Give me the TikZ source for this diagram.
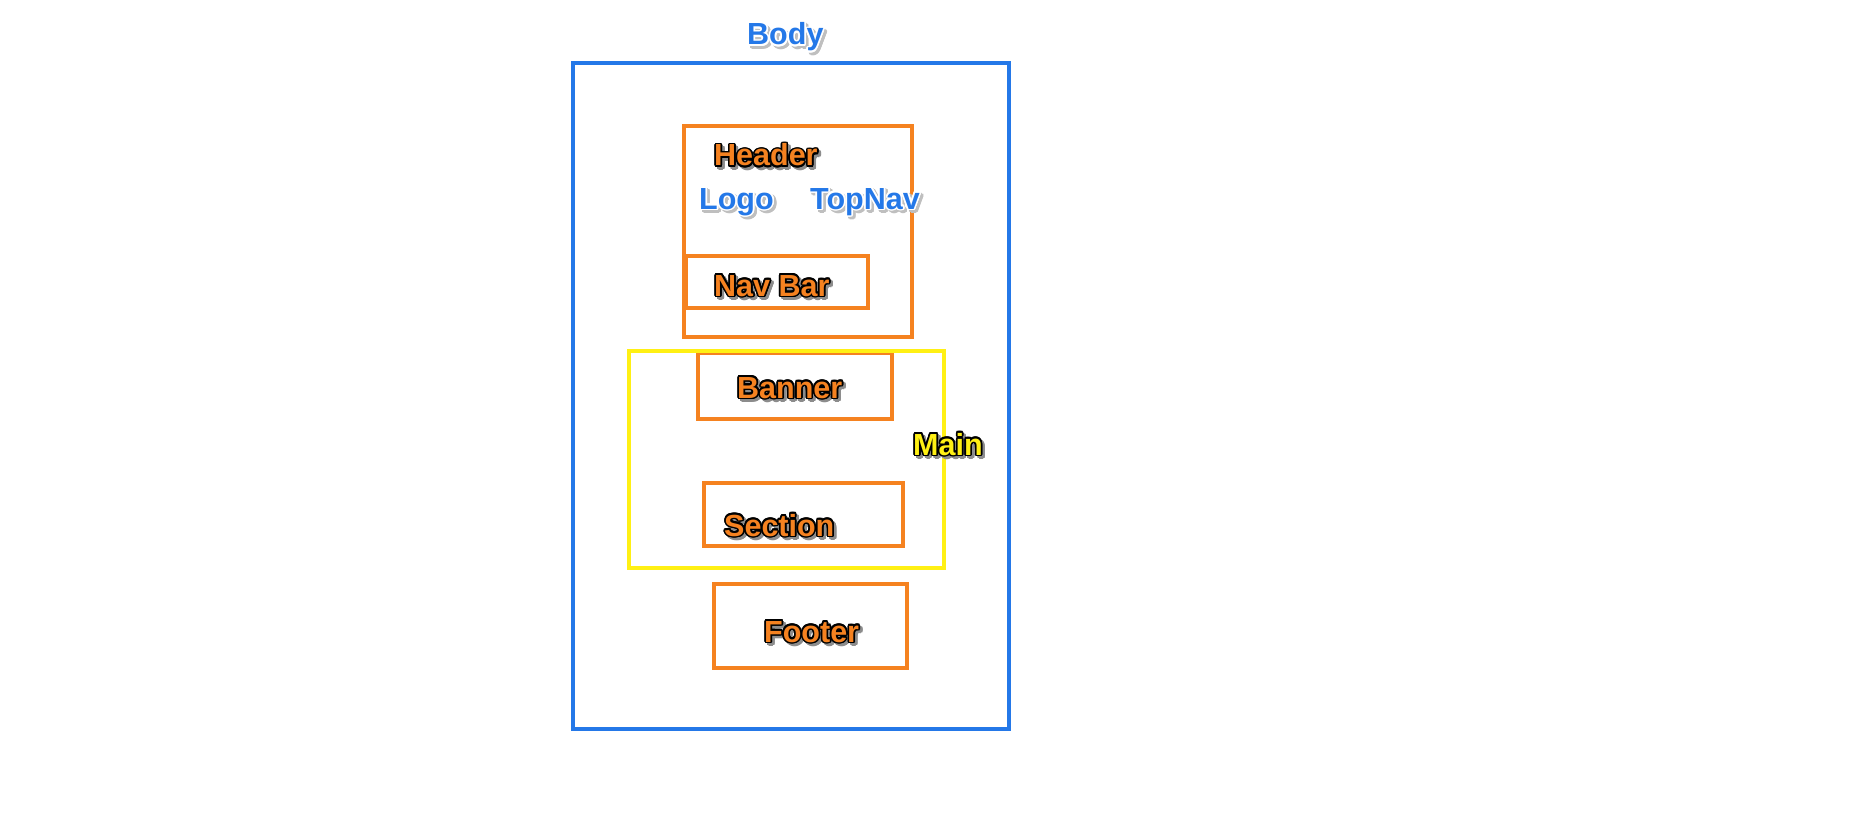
\documentclass[tikz,border=0pt]{standalone}
\usepackage{fontspec}
\setmainfont{Liberation Sans}
\usepackage{contour}
\contourlength{1.6pt}

\definecolor{bodyblue}{RGB}{36,120,232}
\definecolor{partorange}{RGB}{245,130,32}
\definecolor{mainyellow}{RGB}{255,240,20}

% outlined label with a small drop shadow
\newcommand{\shadowtag}[4]{%
  \rlap{\kern2.5pt\raisebox{-2.5pt}{\textcolor{#3}{\contour{#3}{#4}}}}%
  \textcolor{#1}{\contour{#2}{#4}}}

\tikzset{
  box/.style={line width=4pt},
  tag/.style={anchor=base west, inner sep=0pt, font=\fontsize{30.5}{36}\selectfont\bfseries},
}

\begin{document}
\begin{tikzpicture}[x=1pt,y=-1pt]
    \useasboundingbox (0,0) rectangle (1862,813);

    % Draw body
    \draw[box, bodyblue] (573,63) rectangle (1009,729);
    \node[tag] (bodytag) at (747,45) {\shadowtag{bodyblue}{white}{black!25}{Body}};

    % Draw header with logo and top nav
    \draw[box, partorange] (684,126) rectangle (912,337);
    \node[tag] (headertag) at (714,166) {\shadowtag{partorange}{black}{black!45}{Header}};
    \node[tag] (logotag) at (699,209) {\shadowtag{bodyblue}{white}{black!25}{Logo}};
    \node[tag] (topnavtag) at (810,209) {\shadowtag{bodyblue}{white}{black!25}{TopNav}};

    % Draw nav bar
    \draw[box, partorange] (686,256) rectangle (868,308);
    \node[tag] (navbartag) at (714,296) {\shadowtag{partorange}{black}{black!45}{Nav Bar}};

    % Draw banner
    \draw[box, partorange] (698,353) rectangle (892,419);
    \node[tag] (bannertag) at (737,398) {\shadowtag{partorange}{black}{black!45}{Banner}};

    % Draw section
    \draw[box, partorange] (704,483) rectangle (903,546);
    \node[tag] (sectiontag) at (724,536) {\shadowtag{partorange}{black}{black!45}{Section}};

    % Draw main around banner and section
    \draw[box, mainyellow] (629,351) rectangle (944,568);
    \node[tag] (maintag) at (913,455) {\shadowtag{mainyellow}{black}{black!45}{Main}};

    % Draw footer
    \draw[box, partorange] (714,584) rectangle (907,668);
    \node[tag] (footertag) at (764,642) {\shadowtag{partorange}{black}{black!45}{Footer}};
\end{tikzpicture}
\end{document}
